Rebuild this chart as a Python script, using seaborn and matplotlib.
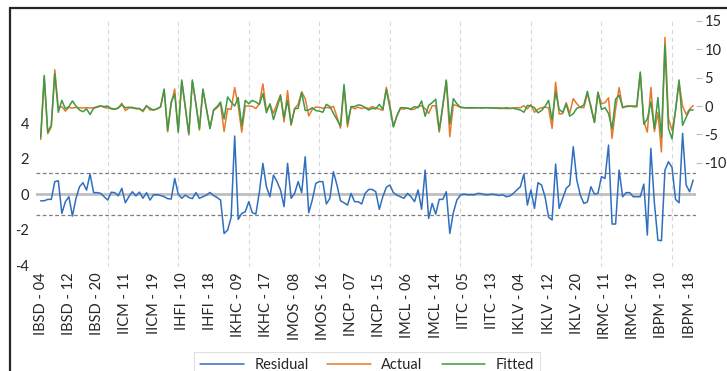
import numpy as np
import pandas as pd
import matplotlib
matplotlib.use("Agg")
import matplotlib.pyplot as plt
import seaborn as sns
from matplotlib.lines import Line2D

tick_labels = ["IBSD - 04", "IBSD - 12", "IBSD - 20", "IICM - 11", "IICM - 19",
               "IHFI - 10", "IHFI - 18", "IKHC - 09", "IKHC - 17", "IMOS - 08",
               "IMOS - 16", "INCP - 07", "INCP - 15", "IMCL - 06", "IMCL - 14",
               "IITC - 05", "IITC - 13", "IKLV - 04", "IKLV - 12", "IKLV - 20",
               "IRMC - 11", "IRMC - 19", "IBPM - 10", "IBPM - 18"]

residual = [-0.38, -0.38, -0.30, -0.30, 0.70, 0.75, -1.09, -0.43, -0.15, -1.24,
            -0.25, 0.41, 0.64, 0.22, 1.13, 0.08, 0.08, 0.04, -0.15, -0.34,
            0.10, 0.08, -0.10, 0.32, -0.49, -0.15, 0.13, -0.11, 0.11, -0.24,
            0.08, -0.34, -0.04, -0.04, -0.08, -0.15, -0.26, -0.28, 0.88, 0.00,
            -0.24, -0.06, -0.19, -0.26, 0.08, -0.24, -0.15, -0.06, 0.09, -0.08,
            -0.19, -0.34, -2.22, -2.03, -1.31, 3.27, -1.43, -1.09, -1.00, -0.43,
            -1.05, -1.13, 0.10, 1.73, 0.41, -0.15, 1.07, 0.70, 0.23, -0.71,
            1.73, -0.24, 0.04, 0.70, 0.08, 2.10, -1.05, -0.34, 0.60, 0.70,
            0.70, -0.56, -0.24, 1.26, 0.51, -0.38, -0.49, -0.62, 0.04, -0.43,
            -0.43, -0.56, 0.04, 0.26, 0.26, 0.13, -0.86, -0.15, 0.38, 0.51,
            0.08, -0.06, -0.15, -0.24, 0.04, -0.15, -0.43, 0.23, -0.86, 1.35,
            -1.37, -0.53, -1.13, -0.30, -0.30, 0.13, -2.22, -1.05, -0.34, -0.06,
            0.00, -0.04, -0.04, -0.04, 0.04, 0.02, -0.04, -0.04, 0.00, -0.04,
            -0.08, -0.04, -0.15, -0.11, 0.04, 0.23, 0.41, 1.13, -0.62, 0.23,
            -0.81, 0.64, 0.51, -0.15, -1.31, -1.46, 1.69, -0.81, -0.24, 0.32,
            0.51, 2.67, 0.79, -0.06, -0.53, -0.45, 0.41, 0.00, 0.04, 0.98,
            0.88, 2.76, -1.69, -1.69, 1.35, -0.15, 0.08, 0.08, -0.15, -0.15,
            -0.15, 0.56, -2.31, 2.57, -0.50, -2.60, -2.63, 1.35, 1.82, 1.50,
            -0.30, -0.49, 3.42, 0.51, 0.13, 0.79]

actual = [-5.9, 5.0, -4.9, -3.7, 6.4, -0.35, -0.1, -0.9, -0.25, -0.35,
          -0.25, -0.3, -0.35, -0.3, -0.35, -0.3, -0.1, 0.05, -0.25, -0.35,
          -0.4, -0.5, -0.4, 0.5, -0.8, -0.35, -0.2, -0.5, -0.4, -1.0,
          0.1, -0.7, -0.7, -0.5, -0.2, 2.85, -4.55, 0.4, 3.0, -4.6,
          4.35, -0.25, -5.1, 4.35, 0.5, -4.25, 2.85, -0.55, -3.9, -0.8,
          -0.3, 0.35, -4.5, -0.45, -0.6, 3.25, 0.05, -4.6, 0.0, 0.0,
          -0.05, -0.45, 0.4, 3.9, -0.8, 0.25, -1.3, 0.4, 2.0, -2.8,
          2.7, -3.4, -0.45, 0.3, 2.5, 1.3, -1.75, -0.6, -0.2, -0.2,
          -0.4, -0.25, -0.35, -0.05, -1.9, -3.9, 3.3, -3.7, -0.1, -0.5,
          -0.2, -0.45, -0.25, -0.45, -0.1, -0.35, -0.55, -0.75, 3.3, 0.2,
          -3.6, -1.75, -0.45, -0.55, -0.35, -0.65, -0.55, -0.1, 0.05, -0.45,
          -1.3, 0.05, 0.05, -4.6, -0.2, 4.6, -5.4, 0.25, 0.05, -0.25,
          -0.3, -0.35, -0.35, -0.35, -0.3, -0.3, -0.3, -0.3, -0.35, -0.35,
          -0.45, -0.4, -0.45, -0.45, -0.35, -0.3, -0.3, 0.05, -0.5, 0.25,
          -1.1, -0.55, -0.3, -0.2, -0.3, -3.95, 4.2, -1.4, -1.35, 0.6,
          -1.3, 1.3, 0.4, -0.25, -0.3, 2.15, 0.1, -2.9, 2.45, 0.4,
          0.6, 1.45, -5.7, -0.5, 3.25, -0.35, 0.0, 0.05, -0.15, -0.15,
          5.85, -2.65, -4.6, 3.3, -4.5, -1.1, -8.1, 12.1, -2.2, -4.3,
          -0.9, 4.1, 0.0, -1.5, -0.55, 0.1]

fitted = [-5.5, 5.4, -4.6, -3.4, 5.7, -1.1, 1.0, -0.5, -0.1, 0.9,
          0.0, -0.7, -1.0, -0.5, -1.5, -0.4, -0.2, 0.0, -0.1, 0.0,
          -0.5, -0.6, -0.3, 0.2, -0.3, -0.2, -0.35, -0.4, -0.5, -0.8,
          0.0, -0.4, -0.7, -0.5, -0.1, 3.0, -4.3, 0.7, 2.1, -4.6,
          4.6, -0.2, -4.9, 4.6, 0.4, -4.0, 3.0, -0.5, -4.0, -0.7,
          -0.1, 0.7, -2.3, 1.6, 0.7, 0.0, 1.5, -3.5, 1.0, 0.4,
          1.0, 0.7, 0.3, 2.2, -1.2, 0.4, -2.4, -0.3, 1.8, -2.1,
          1.0, -3.2, -0.5, -0.4, 2.4, -0.8, -0.7, -0.3, -0.8, -0.9,
          -1.1, 0.3, -0.1, -1.3, -2.4, -3.5, 3.8, -3.1, -0.1, -0.1,
          0.2, 0.1, -0.3, -0.7, -0.4, -0.5, 0.3, -0.6, 2.9, -0.3,
          -3.7, -1.7, -0.3, -0.3, -0.4, -0.5, -0.1, -0.3, 0.9, -1.8,
          0.1, 0.6, 1.2, -4.3, 0.1, 4.5, -3.2, 1.3, 0.4, -0.2,
          -0.3, -0.3, -0.3, -0.3, -0.3, -0.35, -0.3, -0.3, -0.35, -0.35,
          -0.35, -0.4, -0.3, -0.4, -0.4, -0.55, -0.7, -1.1, 0.1, 0.0,
          -0.3, -1.2, -0.8, -0.05, 1.0, -2.5, 2.5, -0.6, -1.1, 0.3,
          -1.8, -1.35, -0.4, -0.2, 0.2, 2.6, -0.3, -2.9, 2.4, -0.6,
          -0.3, -1.3, -4.0, 1.2, 1.9, -0.2, -0.1, -0.05, 0.0, 0.0,
          6.0, -3.2, -2.3, 0.75, -4.0, 1.5, -5.5, 10.7, -4.0, -5.8,
          -0.6, 4.6, -3.4, -2.0, -0.7, -0.7]

blue = "#2f6fbf"
orange = "#e8782f"
green = "#3d9a47"

sns.set_theme(style="white")
plt.rcParams["font.family"] = ["Lato", "DejaVu Sans"]

W, H = 727, 371
fig = plt.figure(figsize=(W / 100, H / 100), dpi=100)
ax = fig.add_axes([36 / W, 1 - 267 / H, 660 / W, 246 / H])
ax2 = ax.twinx()

obs = np.arange(len(residual))
df = pd.DataFrame({"obs": obs, "Residual": residual, "Actual": actual, "Fitted": fitted})

# reference lines on residual axis
ax.axhline(0, color="#bfbfbf", lw=2.0, zorder=1)
for lev in (1.2, -1.2):
    ax.axhline(lev, color="#7f7f7f", lw=0.9, ls=(0, (3, 2)), zorder=1)
for g in range(19, len(residual), 20):
    ax.axvline(g, color="#d9d9d9", lw=0.8, ls=(0, (4, 3)), zorder=0)

sns.lineplot(data=df, x="obs", y="Residual", ax=ax, color=blue, lw=1.1, zorder=3)
sns.lineplot(data=df, x="obs", y="Actual", ax=ax2, color=orange, lw=1.1, zorder=3)
sns.lineplot(data=df, x="obs", y="Fitted", ax=ax2, color=green, lw=1.1, zorder=4)

ax.set_xlim(-1.33, 185.8)
ax.set_ylim(-4.11, 9.75)
ax2.set_ylim(-28.4, 15.0)

ax.set_xticks(obs[::8])
ax.set_xticklabels(tick_labels, rotation=90, fontsize=10.5, color="#262626")
ax.set_yticks([-4, -2, 0, 2, 4])
ax.set_yticklabels(["-4", "-2", "0", "2", "4"], fontsize=10.5, color="#262626")
ax.tick_params(axis="x", length=0, pad=4)
ax.tick_params(axis="y", length=0, pad=5)
ax.set_xlabel("")
ax.set_ylabel("")

ax2.set_yticks([-10, -5, 0, 5, 10, 15])
ax2.set_yticklabels(["-10", "-5", "0", "5", "10", "15"], fontsize=10.5, color="#262626")
ax2.tick_params(axis="y", length=4, width=0.8, color="#bfbfbf", pad=2)
ax2.set_ylabel("")

for a in (ax, ax2):
    for s in a.spines.values():
        s.set_visible(False)

# outer chart border (partially visible)
fig.add_artist(Line2D([10 / W, 10 / W], [0, 1 - 8 / H], color="#262626", lw=1.6))
fig.add_artist(Line2D([10 / W, 1], [1 - 8 / H, 1 - 8 / H], color="#262626", lw=1.6))

handles = [Line2D([], [], color=blue, lw=1.1),
           Line2D([], [], color=orange, lw=1.1),
           Line2D([], [], color=green, lw=1.1)]
leg = fig.legend(handles, ["Residual", "Actual", "Fitted"], loc="upper center",
                 bbox_to_anchor=(367 / W, 1 - 345 / H), ncol=3, fontsize=10.5,
                 frameon=True, fancybox=False, edgecolor="#d9d9d9",
                 handlelength=3.0, handletextpad=0.7, columnspacing=1.3,
                 borderpad=0.4)
leg.get_frame().set_linewidth(0.8)
for t in leg.get_texts():
    t.set_color("#262626")

fig.savefig("out.png", dpi=100)
